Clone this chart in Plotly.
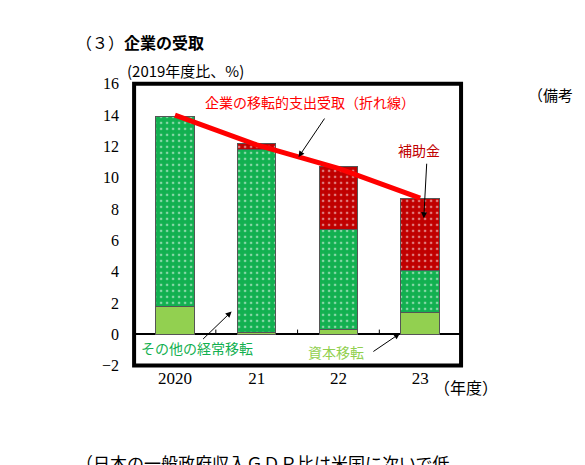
import plotly.graph_objects as go

years = ["2020", "21", "22", "23"]
capital = [1.8, 0.1, 0.3, 1.4]
other_current = [12.1, 11.7, 6.4, 2.7]
subsidy = [0.0, 0.4, 4.0, 4.6]
total = [14.0, 12.1, 10.6, 8.7]

FONT = "Noto Sans CJK JP"
W, H = 585, 465
X0, X1, Y0, Y1 = 128, 470, 84, 365  # plot box in reference pixels


def px(x):
    # correct for the offset/scale seen in the rendered page
    return ((x + 3.9) / 1.046) / W


def py(y):
    return 1 - ((y - 16.3) / 0.961) / H


fig = go.Figure()
pat = dict(shape=".", fgcolor="white", size=6, solidity=0.15)
fig.add_trace(go.Bar(x=years, y=capital, marker=dict(color="#92d050", line=dict(color="#555", width=1)),
                     name="資本移転"))
fig.add_trace(go.Bar(x=years, y=other_current, marker=dict(color="#12b050", pattern=pat, line=dict(color="#555", width=1)),
                     name="その他の経常移転"))
fig.add_trace(go.Bar(x=years, y=subsidy, marker=dict(color="#c00000", pattern=pat, line=dict(color="#555", width=1)),
                     name="補助金"))
fig.add_trace(go.Scatter(x=years, y=total, mode="lines", line=dict(color="#ff0000", width=5),
                         name="企業の移転的支出受取"))

fig.update_layout(
    width=W, height=H, margin=dict(l=0, r=0, t=0, b=0),
    paper_bgcolor="white", plot_bgcolor="white", showlegend=False,
    barmode="stack", bargap=0.53,
    font=dict(family=FONT, color="black", size=15),
    xaxis=dict(domain=[px(X0), px(X1)], showline=False, ticks="", showgrid=False,
               tickfont=dict(family="Liberation Serif", size=17)),
    yaxis=dict(domain=[py(Y1), py(Y0)], range=[-2, 16], dtick=2, showgrid=False,
               zeroline=True, zerolinecolor="black", zerolinewidth=1.5,
               tickfont=dict(family="Liberation Serif", size=16), ticklabelstandoff=14),
)
fig.add_shape(type="rect", xref="paper", yref="paper", x0=px(X0), x1=px(X1), y0=py(Y1), y1=py(Y0),
              line=dict(color="black", width=4))
for b in [0.5, 1.5, 2.5]:
    fig.add_shape(type="line", x0=b, x1=b, y0=0, y1=0.3, line=dict(color="black", width=1))


def note(x, y, text, color="black", size=15, anchor="left"):
    fig.add_annotation(xref="paper", yref="paper", x=px(x), y=py(y), text=text, showarrow=False,
                       font=dict(color=color, size=size), xanchor=anchor, yanchor="middle")


note(65, 42, "（３）<b>企業の受取</b>", size=16)
note(118, 71, "(2019年度比、%)", size=15)
note(538, 95, "（備考", size=15)
note(440, 386, "（年度）", size=16)
note(200, 102, "企業の移転的支出受取（折れ線）", color="#ff0000", size=14)
note(402, 150, "補助金", color="#c00000", size=14)
note(133, 347, "その他の経常移転", color="#12b050", size=14)
note(308, 351, "資本移転", color="#92d050", size=14)
note(65, 462, "（日本の一般政府収入ＧＤＰ比は米国に次いで低", size=17)


def arrow(x, y, tx, ty):
    fig.add_annotation(xref="paper", yref="paper", x=px(tx), y=py(ty), ax=x - tx, ay=y - ty,
                       axref="pixel", ayref="pixel", text="", showarrow=True, arrowhead=2,
                       arrowsize=1.2, arrowwidth=1, arrowcolor="black")


arrow(327, 117, 300, 157)
arrow(434, 162, 431, 218)
arrow(200, 340, 230, 311)
arrow(378, 352, 406, 333)

fig.write_html("out.html")
